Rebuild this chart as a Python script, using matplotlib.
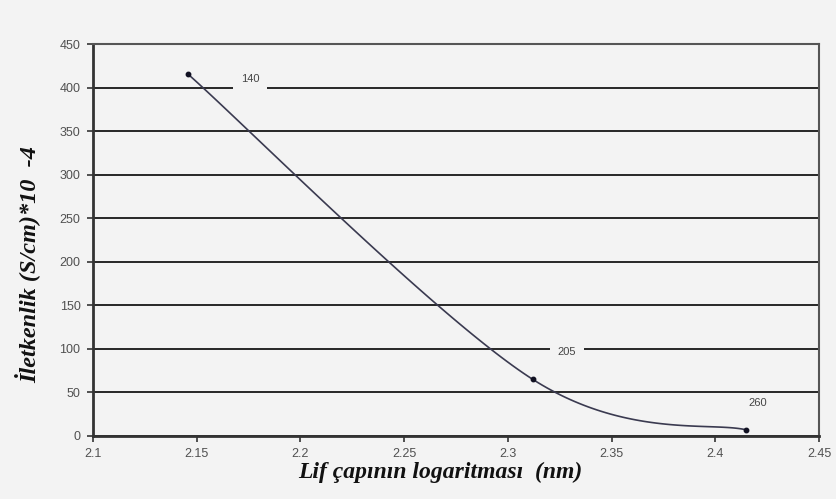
import numpy as np
import matplotlib
matplotlib.use("Agg")
import matplotlib.pyplot as plt

# Fiber diameters (nm), their logarithms and measured conductivity
diameters = [140, 205, 260]
log_diameter = [2.146, 2.312, 2.415]
conductivity = [415, 65, 7]

x_ticks = [2.1, 2.15, 2.2, 2.25, 2.3, 2.35, 2.4, 2.45]
x_tick_labels = ["2.1", "2.15", "2.2", "2.25", "2.3", "2.35", "2.4", "2.45"]
y_ticks = [0, 50, 100, 150, 200, 250, 300, 350, 400, 450]

BG = "#f3f3f3"
W, H = 837, 499

fig = plt.figure(figsize=(W / 100, H / 100), dpi=100, facecolor=BG)
ax = fig.add_axes([0.1111, 0.1263, 0.8674, 0.7855], facecolor=BG)
ax.set_xlim(2.1, 2.45)
ax.set_ylim(0, 450)


def smooth_curve(ax, xs, ys, n=60):
    """Bezier smoothing through points, computed in display space."""
    pts = ax.transData.transform(np.column_stack([xs, ys]))
    ext = np.vstack([pts[0], pts, pts[-1]])
    out = []
    for i in range(len(pts) - 1):
        p0, p1, p2, p3 = ext[i], ext[i + 1], ext[i + 2], ext[i + 3]
        c1 = p1 + (p2 - p0) / 6.0
        c2 = p2 - (p3 - p1) / 6.0
        t = np.linspace(0, 1, n)[:, None]
        seg = ((1 - t) ** 3) * p1 + 3 * ((1 - t) ** 2) * t * c1 + 3 * (1 - t) * t ** 2 * c2 + t ** 3 * p2
        out.append(seg if i == 0 else seg[1:])
    out = np.vstack(out)
    return ax.transData.inverted().transform(out)


# horizontal grid
for yv in y_ticks:
    ax.axhline(yv, color="#262626", lw=1.4, zorder=1)

curve = smooth_curve(ax, log_diameter, conductivity)
ax.plot(curve[:, 0], curve[:, 1], color="#3a3a50", lw=1.2, zorder=3)
ax.plot(log_diameter, conductivity, "o", color="#111122", ms=3.2, zorder=4)

# data labels (fiber diameter), offsets in points
label_offsets = [(44.6, -2.9), (24.5, 19.4), (8.0, 19.4)]
label_pads = [0.7, 0.7, 0.25]
for xv, yv, d, off, pad in zip(log_diameter, conductivity, diameters,
                               label_offsets, label_pads):
    ax.annotate(str(d), (xv, yv), xytext=off, textcoords="offset points",
                ha="center", va="center", fontsize=8, color="#444444",
                family="Liberation Sans",
                bbox=dict(boxstyle=f"square,pad={pad}", fc=BG, ec="none"),
                zorder=5)

ax.set_xticks(x_ticks)
ax.set_xticklabels(x_tick_labels)
ax.set_yticks(y_ticks)
ax.tick_params(axis="both", direction="out", length=4, width=1.2,
               colors="#333333", labelsize=9, pad=5)
for lab in ax.get_xticklabels() + ax.get_yticklabels():
    lab.set_family("Liberation Sans")
    lab.set_color("#505050")

for side in ["left", "bottom"]:
    ax.spines[side].set_linewidth(2.0)
    ax.spines[side].set_color("#333333")
for side in ["right", "top"]:
    ax.spines[side].set_linewidth(1.5)
    ax.spines[side].set_color("#555555")

fig.text(440 / W, 1 - 472 / H, "Lif çapının logaritması  (nm)",
         family="Liberation Serif", style="italic", weight="bold",
         fontsize=17, color="#111111", ha="center", va="center")
fig.text(27 / W, 1 - 265 / H, "İletkenlik (S/cm)*10  -4",
         family="Liberation Serif", style="italic", weight="bold",
         fontsize=17.5, color="#111111", ha="center", va="center",
         rotation=90)

fig.savefig("out.png", dpi=100, facecolor=BG)
